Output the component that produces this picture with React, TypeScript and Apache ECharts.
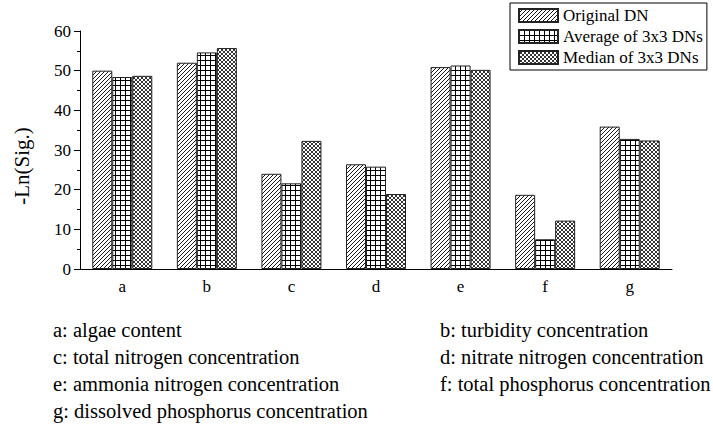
import React, { useEffect, useRef } from "react";
import * as echarts from "echarts";

const categories = ["a", "b", "c", "d", "e", "f", "g"];
const seriesNames = ["Original DN", "Average of 3x3 DNs", "Median of 3x3 DNs"];
const originalDN = [50.0, 52.0, 24.0, 26.4, 50.9, 18.7, 35.9];
const average3x3 = [48.4, 54.6, 21.6, 25.8, 51.3, 7.5, 32.8];
const median3x3 = [48.7, 55.7, 32.3, 18.9, 50.2, 12.2, 32.4];
const yMin = 0;
const yMax = 60;
const yInterval = 10;
const yTitle = "-Ln(Sig.)";
const notesLeft = [
  "a: algae content",
  "c: total nitrogen concentration",
  "e: ammonia nitrogen concentration",
  "g: dissolved phosphorus concentration",
];
const notesRight = [
  "b: turbidity concentration",
  "d: nitrate nitrogen concentration",
  "f: total phosphorus concentration",
];

const FONT = "'Liberation Serif', 'Times New Roman', serif";

function makeCanvas(w: number, h: number, draw: (ctx: CanvasRenderingContext2D) => void) {
  const c = document.createElement("canvas");
  c.width = w;
  c.height = h;
  const ctx = c.getContext("2d")!;
  ctx.fillStyle = "#fff";
  ctx.fillRect(0, 0, w, h);
  ctx.strokeStyle = "#000";
  draw(ctx);
  return c;
}

export default function App() {
  const ref = useRef<HTMLDivElement>(null);
  useEffect(() => {
    if (!ref.current) return;
    const chart = echarts.init(ref.current, undefined, { renderer: "svg" });

    const diag = makeCanvas(4, 4, (ctx) => {
      ctx.lineWidth = 0.9;
      ctx.beginPath();
      ctx.moveTo(-1, 5);
      ctx.lineTo(5, -1);
      ctx.moveTo(-1, 1);
      ctx.lineTo(1, -1);
      ctx.moveTo(3, 5);
      ctx.lineTo(5, 3);
      ctx.stroke();
    });
    const grid = makeCanvas(5, 5, (ctx) => {
      ctx.fillStyle = "#000";
      ctx.fillRect(0, 0, 5, 1);
      ctx.fillRect(0, 0, 1, 5);
    });
    const cross = makeCanvas(4, 4, (ctx) => {
      ctx.lineWidth = 0.8;
      ctx.beginPath();
      ctx.moveTo(-1, 5);
      ctx.lineTo(5, -1);
      ctx.moveTo(-1, -1);
      ctx.lineTo(5, 5);
      ctx.stroke();
    });
    const patterns = [diag, grid, cross].map((img) => ({ image: img, repeat: "repeat" }));
    const data = [originalDN, average3x3, median3x3];

    const noteStyle = (t: string) => ({
      text: t,
      font: `20.5px ${FONT}`,
      fill: "#000",
      verticalAlign: "middle",
    });
    const graphic: any[] = [];
    notesLeft.forEach((t, i) => {
      graphic.push({ type: "text", x: 53, y: 330 + i * 27, style: noteStyle(t) });
    });
    notesRight.forEach((t, i) => {
      graphic.push({ type: "text", x: 440, y: 330 + i * 27, style: noteStyle(t) });
    });
    graphic.push({
      type: "text",
      x: 22,
      y: 166,
      rotation: Math.PI / 2,
      style: {
        text: yTitle,
        font: `21px ${FONT}`,
        fill: "#000",
        align: "center",
        verticalAlign: "middle",
      },
    });

    chart.setOption({
      animation: false,
      backgroundColor: "#fff",
      textStyle: { fontFamily: FONT, color: "#000" },
      grid: { left: 80, right: 41, top: 31, bottom: 158, containLabel: false },
      legend: {
        orient: "vertical",
        left: 510,
        top: 3,
        padding: [4, 4, 4, 8],
        itemWidth: 39,
        itemHeight: 13,
        itemGap: 4,
        icon: "rect",
        borderColor: "#000",
        borderWidth: 1,
        textStyle: { fontFamily: FONT, fontSize: 17, color: "#000" },
        data: seriesNames,
      },
      xAxis: [
        {
          type: "category",
          data: categories,
          axisLine: { lineStyle: { color: "#000", width: 1 } },
          axisTick: { alignWithLabel: true, length: 6, lineStyle: { color: "#000" } },
          axisLabel: { color: "#000", fontFamily: FONT, fontSize: 17, margin: 9 },
        },
        {
          type: "category",
          data: categories,
          position: "bottom",
          axisLine: { show: false },
          axisTick: { length: 4, lineStyle: { color: "#000" } },
          axisLabel: { show: false },
        },
      ],
      yAxis: {
        type: "value",
        min: yMin,
        max: yMax,
        interval: yInterval,
        axisLine: { show: true, lineStyle: { color: "#000", width: 1 } },
        axisTick: { show: true, length: 6, lineStyle: { color: "#000" } },
        minorTick: { show: true, splitNumber: 2, length: 3, lineStyle: { color: "#000" } },
        splitLine: { show: false },
        axisLabel: { color: "#000", fontFamily: FONT, fontSize: 17, margin: 9 },
      },
      series: seriesNames.map((name, i) => ({
        name,
        type: "bar",
        data: data[i],
        barWidth: 20,
        barGap: "0%",
        itemStyle: { color: patterns[i], borderColor: "#222", borderWidth: 1 },
      })),
      graphic,
    });
    return () => chart.dispose();
  }, []);
  return (
    <div
      ref={ref}
      style={{ position: "fixed", left: 0, top: 0, width: 713, height: 427 }}
    />
  );
}
